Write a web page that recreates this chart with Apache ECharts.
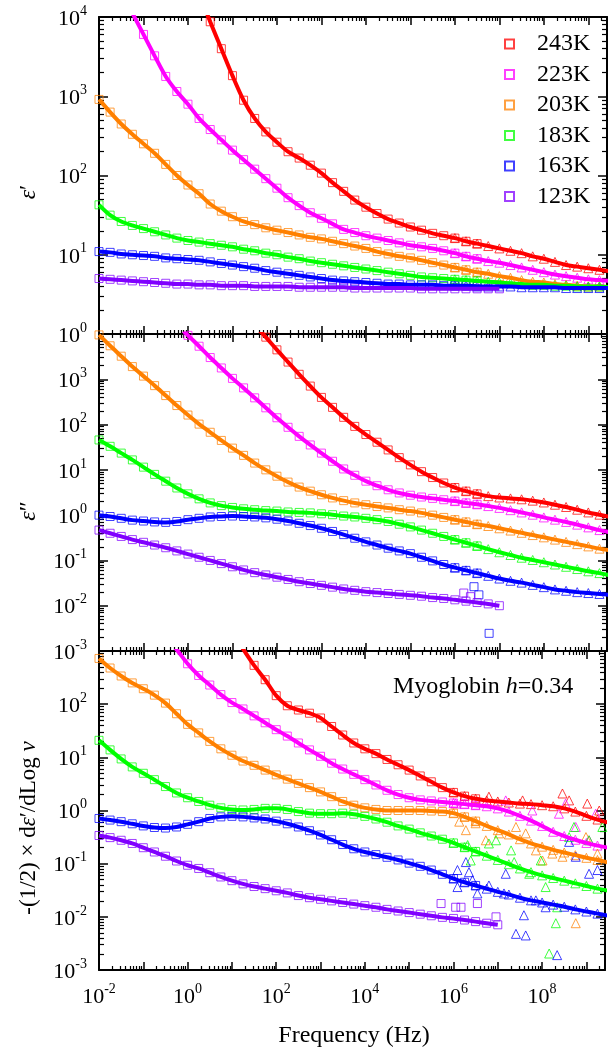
<!DOCTYPE html>
<html>
<head>
<meta charset="utf-8">
<title>Myoglobin h=0.34</title>
<script src="https://cdn.jsdelivr.net/npm/echarts@6/dist/echarts.min.js"></script>
<style>
html, body { margin: 0; padding: 0; background: #fff; }
#main { width: 608px; height: 1057px; }
</style>
</head>
<body>
<div id="main"></div>
<script>
// log10 of the frequency (Hz), one reading every quarter decade
var lgF = [-2,-1.75,-1.5,-1.25,-1,-0.75,-0.5,-0.25,0,0.25,0.5,0.75,1,1.25,1.5,1.75,2,2.25,2.5,2.75,
           3,3.25,3.5,3.75,4,4.25,4.5,4.75,5,5.25,5.5,5.75,6,6.25,6.5,6.75,7,7.25,7.5,7.75,
           8,8.25,8.5,8.75,9,9.25,9.5];

var temps = ['243K', '223K', '203K', '183K', '163K', '123K'];
var colors = ['#ff0000', '#ff00ff', '#ff8000', '#00ff00', '#0000ff', '#8000ff'];

// all values below are log10 of the quantity
// panel 1 : eps'
var e1_243 = [null,null,null,null,null,null,null,null,null,4.3,3.94,3.60,3.26,2.95,2.72,2.55,2.42,2.30,2.22,2.13,
              2.03,1.91,1.80,1.69,1.60,1.52,1.45,1.40,1.35,1.31,1.27,1.24,1.21,1.17,1.14,1.11,1.08,1.05,1.02,0.98,
              0.95,0.91,0.87,0.85,0.83,0.81,0.79];
var e1_223 = [null,null,null,4.05,3.78,3.51,3.25,3.06,2.90,2.72,2.58,2.45,2.32,2.20,2.08,1.96,1.84,1.72,1.62,1.53,
              1.46,1.39,1.32,1.28,1.24,1.21,1.18,1.15,1.12,1.10,1.08,1.05,1.02,0.98,0.95,0.92,0.90,0.87,0.84,0.81,
              0.78,0.75,0.73,0.71,0.69,0.68,0.67];
var e1_203 = [2.96,2.80,2.65,2.52,2.40,2.28,2.14,2.00,1.88,1.77,1.64,1.55,1.48,1.42,1.38,1.34,1.31,1.28,1.25,1.22,
              1.20,1.17,1.14,1.11,1.08,1.04,1.01,0.98,0.96,0.93,0.90,0.87,0.84,0.81,0.78,0.76,0.73,0.71,0.68,0.66,
              0.65,0.63,0.62,0.61,0.60,0.60,0.59];
var e1_183 = [1.63,1.50,1.42,1.37,1.33,1.29,1.25,1.21,1.18,1.16,1.14,1.12,1.10,1.07,1.05,1.02,1.00,0.97,0.95,0.92,
              0.90,0.88,0.86,0.84,0.82,0.80,0.78,0.76,0.74,0.72,0.71,0.70,0.69,0.68,0.67,0.66,0.65,0.64,0.63,0.62,
              0.62,0.61,0.61,0.60,0.60,0.60,0.59];
var e1_163 = [1.04,1.03,1.01,1.00,0.99,0.98,0.96,0.95,0.94,0.93,0.91,0.89,0.87,0.85,0.83,0.80,0.78,0.76,0.74,0.72,
              0.70,0.68,0.67,0.66,0.65,0.64,0.63,0.63,0.62,0.62,0.62,0.61,0.61,0.61,0.60,0.60,0.60,0.60,0.59,0.59,
              0.59,0.59,0.58,0.58,0.58,0.58,0.58];
var e1_123 = [0.70,0.69,0.68,0.67,0.66,0.65,0.64,0.63,0.63,0.62,0.62,0.61,0.61,0.61,0.60,0.60,0.60,0.60,0.59,0.59,
              0.59,0.59,0.59,0.58,0.58,0.58,0.58,0.58,0.58,0.57,0.57,0.57,0.57,0.57,0.57,0.57,0.57,null,null,null,
              null,null,null,null,null,null,null];

// panel 2 : eps''
var e2_243 = [null,null,null,null,null,null,null,null,null,null,null,null,null,null,4.2,3.93,3.65,3.38,3.11,2.85,
              2.60,2.38,2.16,1.96,1.78,1.61,1.44,1.27,1.11,0.96,0.83,0.71,0.61,0.53,0.47,0.42,0.39,0.37,0.35,0.32,
              0.28,0.23,0.18,0.12,0.06,0.01,-0.04];
var e2_223 = [null,null,null,null,null,null,null,4.22,3.97,3.73,3.48,3.25,3.02,2.81,2.59,2.37,2.15,1.94,1.74,1.55,
              1.37,1.19,1.02,0.88,0.75,0.65,0.56,0.49,0.44,0.40,0.37,0.34,0.31,0.27,0.24,0.20,0.16,0.11,0.06,0.01,
              -0.05,-0.10,-0.15,-0.21,-0.27,-0.33,-0.38];
var e2_203 = [3.98,3.74,3.51,3.28,3.07,2.86,2.64,2.42,2.21,2.01,1.83,1.65,1.48,1.32,1.15,1.00,0.86,0.73,0.62,0.53,
              0.45,0.38,0.32,0.27,0.23,0.19,0.16,0.12,0.09,0.05,0.00,-0.05,-0.10,-0.15,-0.20,-0.24,-0.29,-0.34,-0.39,-0.44,
              -0.49,-0.54,-0.59,-0.64,-0.69,-0.74,-0.78];
var e2_183 = [1.66,1.52,1.37,1.22,1.06,0.90,0.75,0.60,0.47,0.36,0.27,0.21,0.17,0.14,0.12,0.10,0.09,0.07,0.06,0.05,
              0.03,0.01,-0.02,-0.04,-0.07,-0.10,-0.14,-0.20,-0.26,-0.33,-0.40,-0.47,-0.54,-0.61,-0.68,-0.75,-0.82,-0.88,-0.94,-0.99,
              -1.04,-1.09,-1.14,-1.19,-1.24,-1.28,-1.33];
var e2_163 = [0.00,-0.03,-0.07,-0.11,-0.13,-0.15,-0.16,-0.14,-0.10,-0.07,-0.04,-0.03,-0.02,-0.03,-0.04,-0.06,-0.09,-0.13,-0.18,-0.23,
              -0.29,-0.36,-0.43,-0.51,-0.59,-0.66,-0.73,-0.79,-0.85,-0.93,-1.01,-1.09,-1.16,-1.22,-1.28,-1.34,-1.40,-1.45,-1.49,-1.54,
              -1.59,-1.64,-1.67,-1.70,-1.72,-1.74,-1.76];
var e2_123 = [-0.33,-0.40,-0.47,-0.54,-0.60,-0.66,-0.72,-0.79,-0.86,-0.93,-1.00,-1.07,-1.14,-1.21,-1.27,-1.32,-1.37,-1.42,-1.47,-1.51,
              -1.55,-1.59,-1.63,-1.66,-1.69,-1.71,-1.73,-1.75,-1.77,-1.79,-1.82,-1.84,-1.87,-1.90,-1.93,-1.96,-2.00,null,null,null,
              null,null,null,null,null,null,null];

// panel 3 : -(1/2) d eps' / d log nu
var e3_243 = [null,null,null,null,null,null,null,null,null,null,null,null,3.35,3.04,2.73,2.46,2.16,1.97,1.89,1.83,
              1.74,1.58,1.42,1.27,1.16,1.07,0.96,0.86,0.76,0.65,0.54,0.43,0.34,0.27,0.22,0.19,0.17,0.15,0.13,0.12,
              0.10,0.08,0.04,-0.02,-0.10,-0.17,-0.23];
var e3_223 = [null,null,null,null,null,null,3.27,3.03,2.76,2.54,2.36,2.18,2.03,1.91,1.78,1.65,1.52,1.40,1.27,1.14,
              1.02,0.89,0.78,0.68,0.58,0.48,0.38,0.30,0.24,0.20,0.18,0.16,0.14,0.12,0.10,0.08,0.04,-0.02,-0.10,-0.19,
              -0.29,-0.40,-0.48,-0.55,-0.61,-0.66,-0.70];
var e3_203 = [2.86,2.68,2.53,2.40,2.29,2.17,2.02,1.82,1.62,1.46,1.30,1.16,1.04,0.93,0.85,0.76,0.67,0.59,0.51,0.43,
              0.35,0.26,0.17,0.10,0.05,0.02,0.00,0.00,0.00,0.00,-0.01,-0.02,-0.05,-0.12,-0.20,-0.29,-0.37,-0.45,-0.54,-0.62,
              -0.68,-0.74,-0.79,-0.84,-0.89,-0.93,-0.98];
var e3_183 = [1.32,1.14,0.97,0.82,0.70,0.58,0.45,0.33,0.24,0.17,0.10,0.05,0.02,0.01,0.02,0.04,0.04,0.02,-0.02,-0.05,
              -0.06,-0.06,-0.05,-0.07,-0.11,-0.16,-0.22,-0.29,-0.35,-0.42,-0.48,-0.54,-0.61,-0.69,-0.77,-0.85,-0.93,-1.01,-1.09,-1.16,
              -1.22,-1.27,-1.32,-1.37,-1.42,-1.47,-1.51];
var e3_163 = [-0.15,-0.18,-0.21,-0.25,-0.29,-0.32,-0.33,-0.31,-0.26,-0.21,-0.15,-0.12,-0.11,-0.12,-0.14,-0.16,-0.20,-0.25,-0.31,-0.38,
              -0.46,-0.55,-0.64,-0.72,-0.78,-0.83,-0.88,-0.93,-0.99,-1.05,-1.12,-1.20,-1.28,-1.35,-1.41,-1.47,-1.53,-1.58,-1.64,-1.69,
              -1.73,-1.77,-1.81,-1.86,-1.90,-1.94,-1.98];
var e3_123 = [-0.47,-0.51,-0.56,-0.62,-0.70,-0.78,-0.86,-0.95,-1.03,-1.09,-1.17,-1.25,-1.32,-1.38,-1.43,-1.47,-1.51,-1.55,-1.60,-1.64,
              -1.67,-1.70,-1.73,-1.76,-1.79,-1.82,-1.86,-1.89,-1.92,-1.95,-1.98,-2.01,-2.03,-2.06,-2.09,-2.12,-2.15,null,null,null,
              null,null,null,null,null,null,null];

// scattered raw points, [log10 f, log10 value]
var p2Sq163 = [[6.43,-1.58],[6.54,-1.76],[6.77,-2.61]];
var p2Sq123 = [[6.20,-1.72],[6.35,-1.80]];
var p3Sq123 = [[5.72,-1.75],[6.05,-1.82],[6.17,-1.82],[6.54,-1.75],[6.96,-2.00]];
var p3Tri243 = [[6.80,0.26],[7.56,0.19],[8.46,0.32],[8.61,0.19],[9.02,0.13],[9.29,0.00]];
var p3Tri223 = [[6.05,0.13],[7.18,0.19],[7.78,0.00],[8.38,-0.06],[8.53,0.13],[8.76,-0.31],[9.06,-0.56],[9.21,-0.06]];
var p3Tri203 = [[6.13,-0.21],[6.28,-0.37],[6.50,-0.24],[6.73,-0.56],[7.03,-0.43],[7.41,-0.31],[7.63,-0.43],
                [7.86,-0.75],[8.01,-0.94],[8.23,-0.81],[8.46,-0.87],[8.76,-2.12],[8.99,-0.50],[9.25,-0.81]];
var p3Tri183 = [[6.32,-0.65],[6.39,-0.94],[6.80,-0.62],[6.96,-0.56],[7.30,-0.75],[7.37,-0.97],[7.71,-1.19],
                [7.97,-0.94],[8.08,-1.44],[8.16,-2.69],[8.31,-2.12],[8.34,-1.82],[8.61,-0.50],[8.72,-0.31],
                [9.06,-0.56],[9.36,-0.31]];
var p3Tri163 = [[6.09,-1.12],[6.28,-0.97],[6.43,-1.31],[6.09,-1.44],[6.35,-1.16],[6.54,-1.56],[6.80,-1.41],
                [7.14,-1.56],[7.18,-1.19],[7.41,-2.32],[7.63,-2.35],[7.59,-1.97],[7.86,-1.69],[8.08,-1.82],
                [8.34,-2.72],[8.61,-0.59],[8.76,-0.87],[9.06,-1.19],[9.25,-1.12]];

var panels = [
  [e1_243, e1_223, e1_203, e1_183, e1_163, e1_123],
  [e2_243, e2_223, e2_203, e2_183, e2_163, e2_123],
  [e3_243, e3_223, e3_203, e3_183, e3_163, e3_123]
];
var extraSq = [[[],[],[],[],[],[]], [[],[],[],[],p2Sq163,p2Sq123], [[],[],[],[],[],p3Sq123]];
var extraTri = [[[],[],[],[],[],[]], [[],[],[],[],[],[]], [p3Tri243,p3Tri223,p3Tri203,p3Tri183,p3Tri163,[]]];

var F = '"Liberation Serif","Times New Roman",serif';

function pow10(v) { return Math.pow(10, v); }
function pts(arr, lo, hi) {
  var out = [];
  for (var k = 0; k < lgF.length; k++) {
    if (arr[k] == null || lgF[k] < lo || lgF[k] > hi) continue;
    out.push([pow10(lgF[k]), pow10(arr[k])]);
  }
  return out;
}
function raw(list) {
  return list.map(function (p) { return [pow10(p[0]), pow10(p[1])]; });
}
function powLabel(v, everyOther) {
  var e = Math.log10(v), r = Math.round(e);
  if (Math.abs(e - r) > 1e-6) return '';
  if (everyOther && r % 2 !== 0) return '';
  return '{b|10}{s|' + r + '}';
}
var richPow = {
  b: { fontSize: 22, fontFamily: F, color: '#000', lineHeight: 26, verticalAlign: 'bottom' },
  s: { fontSize: 14, fontFamily: F, color: '#000', lineHeight: 14, verticalAlign: 'top' }
};

var grids = [
  { left: 99, top: 17, width: 508, height: 317 },
  { left: 99, top: 334, width: 508, height: 317 },
  { left: 99, top: 651, width: 508, height: 319 }
];
var yRange = [[1, 1e4], [1e-3, 1e4], [1e-3, 1e3]];

var xAxes = [], yAxes = [];
for (var g = 0; g < 3; g++) {
  ['bottom', 'top'].forEach(function (pos) {
    var lab = (g === 2 && pos === 'bottom');
    xAxes.push({
      type: 'log', logBase: 10, gridIndex: g, position: pos,
      min: 0.01, max: pow10(9.42), interval: 1,
      axisLine: { onZero: false, lineStyle: { color: '#000', width: 2 } },
      axisTick: { inside: true, length: 8, lineStyle: { color: '#000', width: 1.5 } },
      minorTick: { show: true, splitNumber: 9, length: 4, lineStyle: { color: '#000', width: 1.2 } },
      splitLine: { show: false },
      axisLabel: {
        show: lab, margin: 12, formatter: function (v) { return powLabel(v, true); }, rich: richPow
      }
    });
  });
  ['left', 'right'].forEach(function (pos) {
    var r = yRange[g];
    yAxes.push({
      type: 'log', logBase: 10, gridIndex: g, position: pos,
      min: r[0], max: r[1], interval: 1,
      axisLine: { onZero: false, lineStyle: { color: '#000', width: 2 } },
      axisTick: { inside: true, length: 9, lineStyle: { color: '#000', width: 1.5 } },
      minorTick: { show: true, splitNumber: 9, length: 5, lineStyle: { color: '#000', width: 1.2 } },
      splitLine: { show: false },
      axisLabel: {
        show: pos === 'left', margin: 12, showMaxLabel: g === 0,
        formatter: function (v) { return powLabel(v, false); }, rich: richPow
      }
    });
  });
}

var series = [];
for (var p = 0; p < 3; p++) {
  for (var t = 0; t < 6; t++) {
    var arr = panels[p][t], c = colors[t], last = (t === 5);
    series.push({
      type: 'scatter', name: p === 0 ? temps[t] : temps[t] + ' sq' + p,
      xAxisIndex: 2 * p, yAxisIndex: 2 * p, symbol: 'rect', symbolSize: 8,
      data: pts(arr, -9, last ? 99 : 6.5).concat(raw(extraSq[p][t])),
      itemStyle: { color: 'rgba(0,0,0,0)', borderColor: c, borderWidth: 1, opacity: 0.75 },
      silent: true, z: 2
    });
    if (!last) {
      series.push({
        type: 'scatter', name: temps[t] + ' tri' + p,
        xAxisIndex: 2 * p, yAxisIndex: 2 * p, symbol: 'triangle', symbolSize: 9,
        data: pts(arr, 6, 99).concat(raw(extraTri[p][t])),
        itemStyle: { color: 'rgba(0,0,0,0)', borderColor: c, borderWidth: 1, opacity: 0.75 },
        silent: true, z: 2
      });
    }
  }
  for (var t2 = 0; t2 < 6; t2++) {
    series.push({
      type: 'line', name: temps[t2] + ' fit' + p,
      xAxisIndex: 2 * p, yAxisIndex: 2 * p,
      data: pts(panels[p][t2], -9, 99), showSymbol: false, symbol: 'none', smooth: 0.3,
      lineStyle: { color: colors[t2], width: 4 }, silent: true, z: 3
    });
  }
}

var chart = echarts.init(document.getElementById('main'));
chart.setOption({
  backgroundColor: '#fff',
  animation: false,
  grid: grids,
  xAxis: xAxes,
  yAxis: yAxes,
  legend: {
    orient: 'vertical', left: 499, top: 27, itemWidth: 9, itemHeight: 9, itemGap: 6.5,
    selectedMode: false, data: temps,
    textStyle: { fontFamily: F, fontSize: 24, color: '#000', lineHeight: 24, padding: [0, 0, 0, 18] }
  },
  graphic: [
    { type: 'text', x: 29, y: 192, rotation: Math.PI / 2,
      style: { text: '{i|ε}′', fontFamily: F, fontSize: 24, fill: '#000', align: 'center', verticalAlign: 'middle',
               rich: { i: { fontStyle: 'italic', fontFamily: F, fontSize: 24 } } } },
    { type: 'text', x: 29, y: 511, rotation: Math.PI / 2,
      style: { text: '{i|ε}″', fontFamily: F, fontSize: 24, fill: '#000', align: 'center', verticalAlign: 'middle',
               rich: { i: { fontStyle: 'italic', fontFamily: F, fontSize: 24 } } } },
    { type: 'text', x: 29, y: 828, rotation: Math.PI / 2,
      style: { text: '-(1/2) × d{i|ε}′/dLog {i|ν}', fontFamily: F, fontSize: 23, fill: '#000',
               align: 'center', verticalAlign: 'middle',
               rich: { i: { fontStyle: 'italic', fontFamily: F, fontSize: 23 } } } },
    { type: 'text', x: 354, y: 1036,
      style: { text: 'Frequency (Hz)', fontFamily: F, fontSize: 24, fill: '#000', align: 'center', verticalAlign: 'middle' } },
    { type: 'text', x: 393, y: 687,
      style: { text: 'Myoglobin {i|h}=0.34', fontFamily: F, fontSize: 24, fill: '#000', align: 'left', verticalAlign: 'middle',
               rich: { i: { fontStyle: 'italic', fontFamily: F, fontSize: 24 } } } }
  ],
  series: series
});
</script>
</body>
</html>
